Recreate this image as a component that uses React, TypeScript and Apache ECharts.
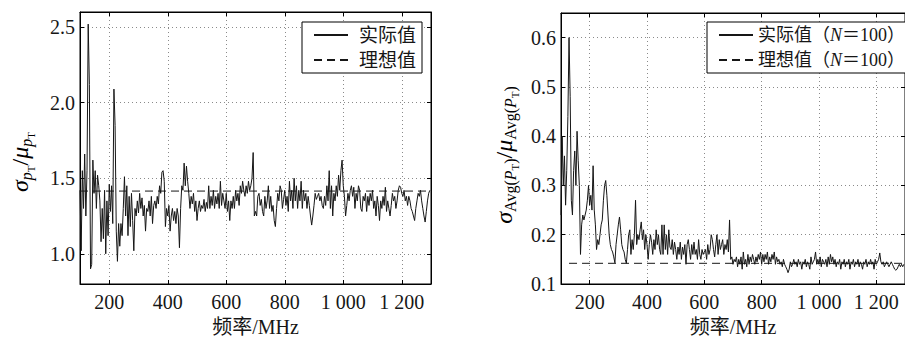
import React, { useEffect, useRef } from "react";
import * as echarts from "echarts";

const FREQ_START = 100;
const FREQ_STEP = 4;
const FREQ_MIN = 100;
const FREQ_MAX = 1300;

const LEFT_ACTUAL = [
  1.42, 1.02, 1.55, 1.30, 1.66, 1.25, 1.55, 2.52, 2.12, 0.90,
  0.93, 1.62, 1.40, 1.55, 1.30, 1.52, 1.45, 1.35, 1.08, 1.30,
  1.10, 1.42, 1.00, 1.35, 1.12, 1.46, 1.28, 1.45, 1.20, 2.09,
  1.85, 1.15, 0.95, 1.20, 1.05, 1.20, 1.12, 1.30, 1.51, 1.25,
  1.45, 1.12, 1.38, 1.18, 1.40, 1.22, 1.02, 1.30, 1.25, 1.35,
  1.27, 1.40, 1.30, 1.37, 1.25, 1.32, 1.15, 1.30, 1.28, 1.35,
  1.25, 1.38, 1.20, 1.32, 1.35, 1.30, 1.38, 1.33, 1.45, 1.40,
  1.54, 1.55, 1.48, 1.18, 1.30, 1.25, 1.32, 1.15, 1.25, 1.30,
  1.22, 1.28, 1.20, 1.30, 1.25, 1.04, 1.30, 1.45, 1.42, 1.60,
  1.45, 1.58, 1.48, 1.40, 1.30, 1.38, 1.33, 1.40, 1.28, 1.35,
  1.22, 1.30, 1.35, 1.28, 1.32, 1.30, 1.36, 1.28, 1.34, 1.30,
  1.45, 1.30, 1.38, 1.32, 1.42, 1.30, 1.38, 1.33, 1.40, 1.30,
  1.48, 1.32, 1.40, 1.35, 1.30, 1.40, 1.28, 1.35, 1.22, 1.35,
  1.30, 1.38, 1.30, 1.42, 1.35, 1.40, 1.32, 1.45, 1.40, 1.48,
  1.42, 1.38, 1.45, 1.40, 1.48, 1.42, 1.45, 1.50, 1.67, 1.25,
  1.28, 1.25, 1.38, 1.40, 1.32, 1.36, 1.28, 1.25, 1.38, 1.30,
  1.35, 1.45, 1.30, 1.38, 1.28, 1.32, 1.22, 1.18, 1.30, 1.40,
  1.35, 1.45, 1.42, 1.30, 1.36, 1.42, 1.32, 1.38, 1.28, 1.48,
  1.35, 1.42, 1.30, 1.50, 1.35, 1.45, 1.30, 1.42, 1.35, 1.48,
  1.30, 1.42, 1.35, 1.40, 1.30, 1.38, 1.32, 1.25, 1.19, 1.25,
  1.32, 1.40, 1.36, 1.38, 1.40, 1.35, 1.38, 1.32, 1.30, 1.38,
  1.32, 1.45, 1.35, 1.55, 1.30, 1.45, 1.25, 1.40, 1.35, 1.45,
  1.38, 1.52, 1.42, 1.55, 1.62, 1.45, 1.38, 1.25, 1.32, 1.40,
  1.35, 1.42, 1.45, 1.38, 1.44, 1.30, 1.40, 1.35, 1.45, 1.42,
  1.30, 1.28, 1.38, 1.35, 1.40, 1.28, 1.38, 1.32, 1.40, 1.35,
  1.42, 1.30, 1.35, 1.25, 1.38, 1.32, 1.22, 1.35, 1.30, 1.38,
  1.32, 1.44, 1.28, 1.35, 1.30, 1.25, 1.32, 1.40, 1.35, 1.38,
  1.30, 1.35, 1.42, 1.45, 1.44, 1.40, 1.38, 1.42, 1.35, 1.38,
  1.32, 1.38, 1.35, 1.30, 1.28, 1.25, 1.22, 1.30, 1.35, 1.40,
  1.38, 1.42, 1.35, 1.30, 1.25, 1.21, 1.28, 1.35, 1.40, 1.42,
];

const RIGHT_ACTUAL = [
  0.24, 0.40, 0.30, 0.36, 0.26, 0.33, 0.44, 0.60, 0.48, 0.27,
  0.24, 0.33, 0.37, 0.30, 0.41, 0.35, 0.30, 0.16, 0.22, 0.24,
  0.23, 0.24, 0.25, 0.27, 0.30, 0.26, 0.28, 0.25, 0.34, 0.25,
  0.22, 0.17, 0.19, 0.18, 0.20, 0.22, 0.23, 0.27, 0.30, 0.31,
  0.28, 0.24, 0.20, 0.18, 0.17, 0.165, 0.155, 0.143, 0.18, 0.20,
  0.22, 0.236, 0.21, 0.18, 0.17, 0.165, 0.15, 0.142, 0.17, 0.20,
  0.21, 0.16, 0.19, 0.17, 0.20, 0.27, 0.18, 0.20, 0.19, 0.21,
  0.226, 0.19, 0.21, 0.17, 0.20, 0.18, 0.15, 0.18, 0.20, 0.185,
  0.16, 0.19, 0.17, 0.21, 0.18, 0.20, 0.17, 0.16, 0.22, 0.16,
  0.22, 0.17, 0.20, 0.16, 0.21, 0.175, 0.17, 0.19, 0.16, 0.185,
  0.17, 0.15, 0.175, 0.16, 0.185, 0.15, 0.175, 0.16, 0.18, 0.14,
  0.18, 0.19, 0.17, 0.15, 0.18, 0.16, 0.185, 0.16, 0.17, 0.15,
  0.19, 0.16, 0.15, 0.17, 0.16, 0.165, 0.17, 0.15, 0.18, 0.16,
  0.17, 0.20, 0.19, 0.17, 0.155, 0.18, 0.20, 0.16, 0.19, 0.17,
  0.18, 0.19, 0.16, 0.18, 0.17, 0.19, 0.165, 0.23, 0.15, 0.155,
  0.14, 0.15, 0.145, 0.155, 0.135, 0.15, 0.14, 0.155, 0.13, 0.165,
  0.14, 0.15, 0.135, 0.16, 0.14, 0.155, 0.145, 0.16, 0.15, 0.14,
  0.155, 0.145, 0.16, 0.15, 0.165, 0.14, 0.16, 0.145, 0.16, 0.15,
  0.165, 0.14, 0.155, 0.145, 0.16, 0.15, 0.165, 0.14, 0.155, 0.145,
  0.15, 0.14, 0.145, 0.135, 0.15, 0.14, 0.135, 0.13, 0.123, 0.13,
  0.145, 0.135, 0.14, 0.15, 0.14, 0.145, 0.135, 0.15, 0.14, 0.145,
  0.13, 0.145, 0.14, 0.15, 0.135, 0.145, 0.14, 0.13, 0.155, 0.14,
  0.145, 0.15, 0.165, 0.14, 0.15, 0.14, 0.155, 0.135, 0.15, 0.145,
  0.14, 0.15, 0.135, 0.155, 0.14, 0.16, 0.145, 0.155, 0.14, 0.15,
  0.135, 0.145, 0.14, 0.15, 0.13, 0.145, 0.14, 0.15, 0.135, 0.145,
  0.14, 0.15, 0.13, 0.145, 0.14, 0.15, 0.135, 0.145, 0.14, 0.15,
  0.135, 0.145, 0.14, 0.13, 0.145, 0.14, 0.15, 0.135, 0.145, 0.14,
  0.15, 0.14, 0.145, 0.13, 0.15, 0.14, 0.145, 0.15, 0.163, 0.145,
  0.14, 0.145, 0.135, 0.14, 0.145, 0.14, 0.135, 0.14, 0.145, 0.14,
  0.135, 0.13, 0.128, 0.13, 0.135, 0.14, 0.135, 0.14, 0.135, 0.14,
];

const LEFT_IDEAL = 1.415;
const RIGHT_IDEAL = 0.142;
const RIGHT_IDEAL_START = 128;

const LEFT_Y_RANGE = [0.8, 2.6];
const RIGHT_Y_RANGE = [0.1, 0.65];

const LEFT_NAMES = ["实际值", "理想值"];
const RIGHT_NAMES = ["实际值（N＝100）", "理想值（N＝100）"];
const X_NAME = "频率/MHz";

const SERIF = "'Liberation Serif', 'Noto Sans CJK SC', serif";
const INK = "#161616";

function fmtFreq(v: number): string {
  if (Math.abs(v % 200) > 1e-6) return "";
  if (v <= FREQ_MIN || v >= FREQ_MAX) return "";
  if (v >= 1000) {
    const th = Math.floor(v / 1000);
    const rest = String(Math.round(v % 1000)).padStart(3, "0");
    return `${th} ${rest}`;
  }
  return String(v);
}

function fmtStep(step: number, hideMin: boolean, max: number, min: number) {
  return (v: number) => {
    const k = v / step;
    if (Math.abs(k - Math.round(k)) > 1e-6) return "";
    if (hideMin && Math.abs(v - min) < 1e-9) return "";
    if (v > max - 1e-9) return "";
    return v.toFixed(1);
  };
}

const gridLine = { show: true, lineStyle: { color: "#8a8a8a", type: [1, 3] as any, width: 1 } };

function xAxes(gridIndex: number) {
  return [
    {
      type: "value",
      gridIndex,
      min: FREQ_MIN,
      max: FREQ_MAX,
      splitNumber: 6,
      position: "bottom",
      axisLine: { show: true, onZero: false, lineStyle: { color: "#000", width: 1 } },
      axisTick: { show: true, inside: true, length: 4, lineStyle: { color: "#000" } },
      axisLabel: {
        formatter: fmtFreq,
        fontFamily: SERIF,
        fontSize: 20,
        color: INK,
        margin: 8,
        showMinLabel: false,
        showMaxLabel: false,
      },
      splitLine: gridLine,
      name: X_NAME,
      nameLocation: "middle",
      nameGap: 33,
      nameTextStyle: { fontFamily: SERIF, fontSize: 20, color: INK },
    },
    {
      type: "value",
      gridIndex,
      min: FREQ_MIN,
      max: FREQ_MAX,
      splitNumber: 6,
      position: "top",
      axisLine: { show: true, onZero: false, lineStyle: { color: "#000", width: 1 } },
      axisTick: { show: true, inside: true, length: 4, lineStyle: { color: "#000" } },
      axisLabel: { show: false },
      splitLine: { show: false },
    },
  ];
}

function yAxes(gridIndex: number, range: number[], splitNumber: number, step: number, hideMin: boolean) {
  return [
    {
      type: "value",
      gridIndex,
      min: range[0],
      max: range[1],
      splitNumber,
      position: "left",
      axisLine: { show: true, onZero: false, lineStyle: { color: "#000", width: 1 } },
      axisTick: { show: true, inside: true, length: 4, lineStyle: { color: "#000" } },
      axisLabel: {
        formatter: fmtStep(step, hideMin, range[1], range[0]),
        fontFamily: SERIF,
        fontSize: 20,
        color: INK,
        margin: 5,
      },
      splitLine: gridLine,
    },
    {
      type: "value",
      gridIndex,
      min: range[0],
      max: range[1],
      splitNumber,
      position: "right",
      axisLine: { show: true, onZero: false, lineStyle: { color: "#000", width: 1 } },
      axisTick: { show: true, inside: true, length: 4, lineStyle: { color: "#000" } },
      axisLabel: { show: false },
      splitLine: { show: false },
    },
  ];
}

const nameRich = {
  m: { fontFamily: SERIF, fontSize: 24, fontStyle: "italic", color: INK },
  u: { fontFamily: SERIF, fontSize: 24, color: INK },
  s: { fontFamily: SERIF, fontSize: 16, fontStyle: "italic", color: INK, padding: [12, 0, 0, 0] },
  su: { fontFamily: SERIF, fontSize: 16, color: INK, padding: [12, 0, 0, 0] },
  t: { fontFamily: SERIF, fontSize: 11, color: INK, padding: [22, 0, 0, 0] },
};

export default function App() {
  const ref = useRef<HTMLDivElement>(null);

  useEffect(() => {
    if (!ref.current) return;
    const chart = echarts.init(ref.current, undefined, { renderer: "svg" });

    const leftData = LEFT_ACTUAL.map((v, i) => [FREQ_START + i * FREQ_STEP, v]);
    const rightData = RIGHT_ACTUAL.map((v, i) => [FREQ_START + i * FREQ_STEP, v]);

    const legendText = { fontFamily: SERIF, color: INK };
    const legendCommon = {
      orient: "vertical",
      top: 22,
      borderColor: "#000",
      borderWidth: 1,
      backgroundColor: "#fff",
      itemWidth: 34,
      itemHeight: 14,
      itemGap: 5,
      selectedMode: false,
      itemStyle: { opacity: 0, borderWidth: 0 },
    };

    chart.setOption({
      animation: false,
      backgroundColor: "#fff",
      grid: [
        { left: 80, top: 12, width: 351, height: 277, show: true, borderColor: "#000", borderWidth: 1, containLabel: false },
        { left: 561, top: 13, width: 353, height: 277, show: true, borderColor: "#000", borderWidth: 1, containLabel: false },
      ],
      xAxis: [...xAxes(0), ...xAxes(1)],
      yAxis: [
        ...yAxes(0, LEFT_Y_RANGE, 4, 0.5, true),
        ...yAxes(1, RIGHT_Y_RANGE, 5, 0.1, false),
      ],
      legend: [
        {
          ...legendCommon,
          left: 302,
          padding: [3, 6, 3, 11],
          data: LEFT_NAMES,
          textStyle: { ...legendText, fontSize: 19, lineHeight: 20, padding: [0, 0, 0, 6] },
        },
        {
          ...legendCommon,
          left: 707,
          padding: [3, 2, 3, 11],
          data: RIGHT_NAMES,
          formatter: (name: string) => {
            const idx = name.indexOf("N");
            return `${name.slice(0, idx)}{i|N}${name.slice(idx + 1)}`;
          },
          textStyle: {
            ...legendText,
            fontSize: 18,
            lineHeight: 20,
            rich: { i: { fontFamily: SERIF, fontSize: 18, fontStyle: "italic", color: INK, lineHeight: 20 } },
          },
        },
      ],
      graphic: [
        {
          type: "text",
          x: 20,
          y: 162,
          rotation: Math.PI / 2,
          style: {
            text: "{m|σ}{s|p}{t|T}{u|/}{m|μ}{s|p}{t|T}",
            rich: nameRich,
            align: "center",
            verticalAlign: "middle",
          },
        },
        {
          type: "text",
          x: 504,
          y: 155,
          rotation: Math.PI / 2,
          style: {
            text: "{m|σ}{su|Avg(}{s|P}{t|T}{su|)}{u|/}{m|μ}{su|Avg(}{s|P}{t|T}{su|)}",
            rich: nameRich,
            align: "center",
            verticalAlign: "middle",
          },
        },
      ],
      series: [
        {
          name: LEFT_NAMES[0],
          type: "line",
          xAxisIndex: 0,
          yAxisIndex: 0,
          data: leftData,
          showSymbol: false,
          symbol: "none",
          lineStyle: { color: INK, width: 1 },
          itemStyle: { color: INK },
        },
        {
          name: LEFT_NAMES[1],
          type: "line",
          xAxisIndex: 0,
          yAxisIndex: 0,
          data: [
            [FREQ_MIN, LEFT_IDEAL],
            [FREQ_MAX, LEFT_IDEAL],
          ],
          showSymbol: false,
          symbol: "none",
          lineStyle: { color: INK, width: 1, type: [8, 5] },
          itemStyle: { color: INK },
        },
        {
          name: RIGHT_NAMES[0],
          type: "line",
          xAxisIndex: 2,
          yAxisIndex: 2,
          data: rightData,
          showSymbol: false,
          symbol: "none",
          lineStyle: { color: INK, width: 1 },
          itemStyle: { color: INK },
        },
        {
          name: RIGHT_NAMES[1],
          type: "line",
          xAxisIndex: 2,
          yAxisIndex: 2,
          data: [
            [RIGHT_IDEAL_START, RIGHT_IDEAL],
            [FREQ_MAX, RIGHT_IDEAL],
          ],
          showSymbol: false,
          symbol: "none",
          lineStyle: { color: INK, width: 1, type: [8, 5] },
          itemStyle: { color: INK },
        },
      ],
    });

    return () => chart.dispose();
  }, []);

  return (
    <div
      ref={ref}
      style={{ position: "fixed", left: 0, top: 0, width: 905, height: 342, overflow: "hidden", background: "#fff" }}
    />
  );
}
